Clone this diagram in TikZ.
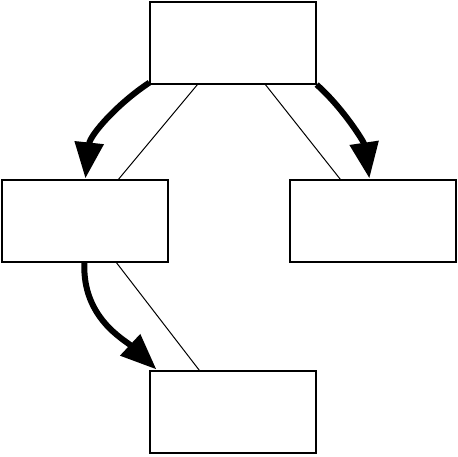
\documentclass[tikz,border=0pt]{standalone}
\usetikzlibrary{arrows.meta,calc}
\begin{document}
\begin{tikzpicture}[x=1pt,y=-1pt,
  boxnode/.style={draw,line width=1.2pt,minimum width=166pt,minimum height=82pt,inner sep=0pt,anchor=center},
  thinline/.style={line width=1pt},
  bigarrow/.style={line width=6pt,-{Triangle[length=36pt,width=28pt]}}]
\useasboundingbox (0,0) rectangle (458,456);
\node[boxnode] (top) at (233,43) {};
\node[boxnode] (left) at (85,221) {};
\node[boxnode] (right) at (373,221) {};
\node[boxnode] (bottom) at (233,412) {};
% thin connectors
\draw[thinline] ($(top.south west)+(48,0)$) -- ($(left.north west)+(117,0)$);
\draw[thinline] ($(top.south west)+(116,0)$) -- ($(right.north west)+(51,0)$);
\draw[thinline] ($(left.south west)+(115,0)$) -- ($(bottom.north west)+(50,0)$);
% thick arrows
\coordinate (a1) at ($(top.south west)+(0,-2)$);
\coordinate (a1e) at ($(left.north west)+(84,-1)$);
\draw[bigarrow] (a1) .. controls (117,104) and (90,135) .. (a1e);
\coordinate (a2) at (top.south east);
\coordinate (a2e) at ($(right.north west)+(80,-1)$);
\draw[bigarrow] (a2) .. controls (343,108) and (364,142) .. (a2e);
\coordinate (a3) at ($(left.south west)+(83,0)$);
\coordinate (a3e) at ($(bottom.north west)+(7,-1)$);
\draw[bigarrow] (a3) .. controls (82,318) and (125,340) .. (a3e);
\end{tikzpicture}
\end{document}
